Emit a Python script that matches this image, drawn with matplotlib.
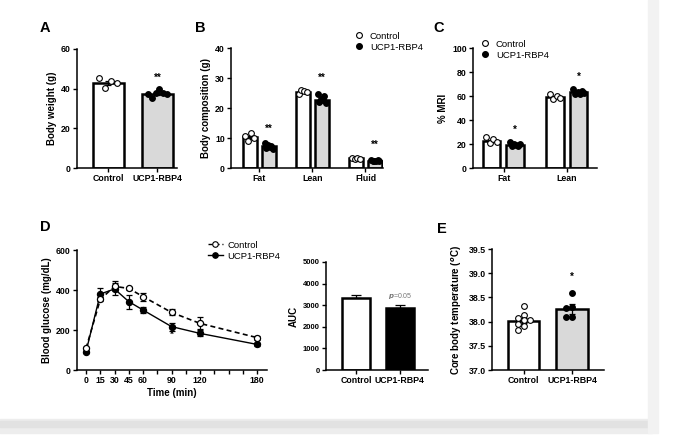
import numpy as np
import matplotlib
matplotlib.use("Agg")
import matplotlib.pyplot as plt
from matplotlib.patches import Rectangle
from matplotlib.lines import Line2D

plt.rcParams['font.family'] = ['Liberation Sans', 'DejaVu Sans']
plt.rcParams['font.weight'] = 'bold'

# ---------------- data ----------------
groups = ["Control", "UCP1-RBP4"]

# A: body weight
bw_means = [42.7, 37.5]
bw_sem = [1.0, 0.6]
bw_ctrl_pts = [45.2, 40.5, 43.9, 43.0]
bw_ucp_pts = [37.2, 35.2, 38.0, 39.7, 37.7, 37.2]

# B: body composition (g)
comp_cats = ["Fat", "Lean", "Fluid"]
comp_ctrl_means = [10.2, 25.4, 3.2]
comp_ucp_means = [7.3, 22.6, 2.4]
comp_ctrl_sem = [0.6, 0.3, 0.15]
comp_ucp_sem = [0.3, 0.5, 0.1]
comp_ctrl_pts = [[10.5, 9.0, 11.8, 10.0], [24.8, 26.0, 25.6, 25.2], [3.4, 3.0, 3.3, 2.9]]
comp_ucp_pts = [[8.3, 6.8, 7.8, 7.0, 7.5, 6.5], [24.5, 22.0, 23.0, 22.5, 24.0, 21.5],
                [2.6, 2.3, 2.5, 2.2, 2.7, 2.4]]
comp_stars = ["**", "**", "**"]
comp_star_y = [11.5, 28.5, 6.0]

# C: % MRI
mri_cats = ["Fat", "Lean"]
mri_ctrl_means = [22.5, 59.5]
mri_ucp_means = [19.5, 63.0]
mri_ctrl_sem = [1.0, 0.8]
mri_ucp_sem = [0.6, 0.6]
mri_ctrl_pts = [[26.0, 21.0, 24.0, 22.0], [61.4, 57.5, 60.3, 58.0]]
mri_ucp_pts = [[21.5, 18.0, 20.0, 19.0, 18.5, 20.0], [65.5, 62.0, 63.5, 61.5, 64.5, 62.5]]
mri_star_y = [27.5, 72.0]

# D: GTT
time_pts = [0, 15, 30, 45, 60, 90, 120, 180]
gtt_ctrl = [108, 353, 418, 408, 367, 288, 233, 162]
gtt_ctrl_err = [5, 10, 25, 8, 20, 15, 30, 10]
gtt_ucp = [92, 380, 405, 342, 300, 217, 183, 128]
gtt_ucp_err = [5, 30, 30, 35, 15, 20, 15, 8]
time_ticks = [0, 15, 30, 45, 60, 75, 90, 105, 120, 135, 150, 165, 180]
time_labels = ["0", "15", "30", "45", "60", "", "90", "", "120", "", "", "", "180"]

# AUC
auc_means = [3320, 2850]
auc_sem = [170, 170]

# E: core body temperature
temp_means = [38.02, 38.26]
temp_sem = [0.05, 0.11]
temp_ctrl_pts = [38.32, 38.14, 38.08, 38.03, 38.03, 37.96, 37.91, 37.83]
temp_ucp_pts = [38.60, 38.30, 38.28, 38.10, 38.10]

GRAY = "#d9d9d9"
W, H = 679, 436
fig = plt.figure(figsize=(W / 100, H / 100), dpi=100)
fig.patch.set_facecolor("white")

# card shadow
fig.add_artist(Rectangle((0, 1 - 433 / H), 652 / W, 14 / H, transform=fig.transFigure,
                         color="#ededed", zorder=0))
fig.add_artist(Rectangle((0, 1 - 427 / H), 652 / W, 6 / H, transform=fig.transFigure,
                         color="#e2e2e2", zorder=0))
fig.add_artist(Rectangle((648 / W, 1 - 433 / H), 10 / W, 433 / H, transform=fig.transFigure,
                         color="#f2f2f2", zorder=0))


def px_axes(l, t, r, b):
    return fig.add_axes([l / W, 1 - b / H, (r - l) / W, (b - t) / H])


def style(ax, size=6.3):
    for s in ["top", "right"]:
        ax.spines[s].set_visible(False)
    for s in ["left", "bottom"]:
        ax.spines[s].set_linewidth(1.1)
    ax.tick_params(axis="both", direction="out", length=3, width=1.0, labelsize=size, pad=1.5)
    for lab in ax.get_xticklabels() + ax.get_yticklabels():
        lab.set_fontweight("bold")


def dots(ax, x, vals, width, filled):
    n = len(vals)
    xs = x + np.linspace(-width * 0.3, width * 0.3, n)
    ax.scatter(xs, vals, s=17, facecolor="black" if filled else "white",
               edgecolor="black", linewidth=0.8, zorder=4, clip_on=False)


def swarm(ax, x, vals, filled, diam_px=5.0, step_px=3.0):
    fig.canvas.draw()
    tr = ax.transData
    base = [tr.transform((x, v)) for v in vals]
    placed = []
    xs = []
    for (bx, by), v in zip(base, vals):
        for k in [0, -1, 1, -2, 2, -3, 3, -4, 4]:
            cx = bx + k * step_px
            if all(np.hypot(cx - px, by - py) >= diam_px for px, py in placed):
                break
        placed.append((cx, by))
        xs.append(tr.inverted().transform((cx, by))[0])
    ax.scatter(xs, vals, s=17, facecolor="black" if filled else "white",
               edgecolor="black", linewidth=0.8, zorder=4, clip_on=False)


def bar(ax, x, h, w, fill, err):
    ax.bar(x, h, w, color=fill, edgecolor="black", linewidth=1.8, zorder=2)
    ax.errorbar(x, h, yerr=err, fmt="none", ecolor="black", elinewidth=0.9,
                capsize=2.5, capthick=0.9, zorder=3)


# ---------- A ----------
axA = px_axes(77, 49, 177, 168)
for i, (m, e, pts, fill, filled) in enumerate(zip(bw_means, bw_sem, [bw_ctrl_pts, bw_ucp_pts],
                                                  ["white", GRAY], [False, True])):
    bar(axA, i, m, 0.62, fill, e)
    dots(axA, i, pts, 0.62, filled)
axA.text(1, 43.0, "**", ha="center", va="bottom", fontsize=7)
axA.set_xlim(-0.64, 1.4)
axA.set_ylim(0, 60)
axA.set_yticks([0, 20, 40, 60])
axA.set_xticks([0, 1])
axA.set_xticklabels(groups)
axA.set_ylabel("Body weight (g)", fontsize=7, fontweight="bold", labelpad=3)
style(axA)

# ---------- B ----------
axB = px_axes(231, 48, 383, 168)
bw = 0.26
off = 0.18
for i in range(len(comp_cats)):
    bar(axB, i - off, comp_ctrl_means[i], bw, "white", comp_ctrl_sem[i])
    dots(axB, i - off, comp_ctrl_pts[i], bw, False)
    bar(axB, i + off, comp_ucp_means[i], bw, GRAY, comp_ucp_sem[i])
    dots(axB, i + off, comp_ucp_pts[i], bw, True)
    axB.text(i + off, comp_star_y[i], comp_stars[i], ha="center", va="bottom", fontsize=7)
axB.set_xlim(-0.53, 2.33)
axB.set_ylim(0, 40)
axB.set_yticks([0, 10, 20, 30, 40])
axB.set_xticks(range(len(comp_cats)))
axB.set_xticklabels(comp_cats)
axB.set_ylabel("Body composition (g)", fontsize=7, fontweight="bold", labelpad=3)
style(axB)

leg_handles = [Line2D([], [], ls="none", marker="o", mfc="white", mec="black", ms=4.2, mew=0.8),
               Line2D([], [], ls="none", marker="o", mfc="black", mec="black", ms=4.2, mew=0.8)]
axB.legend(leg_handles, groups, loc="upper left", bbox_to_anchor=(350 / W, 1 - 27 / H),
           bbox_transform=fig.transFigure, frameon=False,
           handlelength=1.0, handletextpad=0.6, labelspacing=0.2, borderpad=0,
           prop={"weight": "normal", "size": 6.8})

# ---------- C ----------
axC = px_axes(473, 48, 597, 168)
cw = 0.27
for i in range(len(mri_cats)):
    bar(axC, i - 0.19, mri_ctrl_means[i], cw, "white", mri_ctrl_sem[i])
    dots(axC, i - 0.19, mri_ctrl_pts[i], cw, False)
    bar(axC, i + 0.18, mri_ucp_means[i], cw, GRAY, mri_ucp_sem[i])
    dots(axC, i + 0.18, mri_ucp_pts[i], cw, True)
    axC.text(i + 0.18, mri_star_y[i], "*", ha="center", va="bottom", fontsize=7)
axC.set_xlim(-0.48, 1.47)
axC.set_ylim(0, 100)
axC.set_yticks([0, 20, 40, 60, 80, 100])
axC.set_xticks(range(len(mri_cats)))
axC.set_xticklabels(mri_cats)
axC.set_ylabel("% MRI", fontsize=7, fontweight="bold", labelpad=3)
style(axC)
axC.legend(leg_handles, groups, loc="upper left", bbox_to_anchor=(476 / W, 1 - 35 / H),
           bbox_transform=fig.transFigure, frameon=False,
           handlelength=1.0, handletextpad=0.6, labelspacing=0.2, borderpad=0,
           prop={"weight": "normal", "size": 6.8})

# ---------- D ----------
axD = px_axes(77, 250, 267, 370)
axD.errorbar(time_pts, gtt_ctrl, yerr=gtt_ctrl_err, color="black", ls=(0, (3, 2)), lw=1.2,
             marker="o", mfc="white", mec="black", ms=4.4, mew=0.9, capsize=2.5,
             elinewidth=0.9, capthick=0.9, zorder=4, label="Control")
axD.errorbar(time_pts, gtt_ucp, yerr=gtt_ucp_err, color="black", ls="-", lw=1.0,
             marker="o", mfc="black", mec="black", ms=4.4, mew=0.9, capsize=2.5,
             elinewidth=0.9, capthick=0.9, zorder=3, label="UCP1-RBP4")
axD.text(90, 150, "*", ha="center", va="bottom", fontsize=7)
axD.set_xlim(-9.5, 190.5)
axD.set_ylim(0, 600)
axD.set_yticks([0, 200, 400, 600])
axD.set_xticks(time_ticks)
axD.set_xticklabels(time_labels)
axD.set_xlabel("Time (min)", fontsize=7, fontweight="bold", labelpad=2)
axD.set_ylabel("Blood glucose (mg/dL)", fontsize=7, fontweight="bold", labelpad=3)
style(axD)
dh = [Line2D([], [], color="black", ls=(0, (3, 2)), lw=1.0, marker="o", mfc="white", mec="black", ms=4, mew=0.8),
      Line2D([], [], color="black", ls="-", lw=1.0, marker="o", mfc="black", mec="black", ms=4, mew=0.8)]
axD.legend(dh, groups, loc="upper left", bbox_to_anchor=(203 / W, 1 - 236 / H),
           bbox_transform=fig.transFigure, frameon=False,
           handlelength=1.6, handletextpad=0.5, labelspacing=0.2, borderpad=0,
           prop={"weight": "normal", "size": 6.8})

# ---------- AUC ----------
axU = px_axes(326, 262, 428, 370)
for i, (m, e, fill) in enumerate(zip(auc_means, auc_sem, ["white", "black"])):
    axU.bar(i, m, 0.64, color=fill, edgecolor="black", linewidth=1.8, zorder=2)
    axU.errorbar(i, m, yerr=[[0], [e]], fmt="none", ecolor="black", elinewidth=0.9,
                 capsize=3.5, capthick=0.9, zorder=1)
axU.text(1, 3180, "$p$=0.05", ha="center", va="bottom", fontsize=5, color="#777777",
         fontweight="normal")
axU.set_xlim(-0.68, 1.64)
axU.set_ylim(0, 5000)
axU.set_yticks([0, 1000, 2000, 3000, 4000, 5000])
axU.set_xticks([0, 1])
axU.set_xticklabels(groups)
axU.set_ylabel("AUC", fontsize=7, fontweight="bold", labelpad=3)
style(axU)
axU.tick_params(axis="y", labelsize=5.5)

# ---------- E ----------
axE = px_axes(492, 249, 604, 370)
axE.set_xlim(-0.65, 1.66)
axE.set_ylim(37.0, 39.5)
for i, (m, e, pts, fill, filled) in enumerate(zip(temp_means, temp_sem, [temp_ctrl_pts, temp_ucp_pts],
                                                  ["white", GRAY], [False, True])):
    bar(axE, i, m, 0.64, fill, e)
    swarm(axE, i, pts, filled)
axE.text(1, 38.82, "*", ha="center", va="bottom", fontsize=7)
axE.set_xlim(-0.65, 1.66)
axE.set_ylim(37.0, 39.5)
axE.set_yticks([37.0, 37.5, 38.0, 38.5, 39.0, 39.5])
axE.set_yticklabels(["37.0", "37.5", "38.0", "38.5", "39.0", "39.5"])
axE.set_xticks([0, 1])
axE.set_xticklabels(groups)
axE.set_ylabel("Core body temperature ($^o$C)", fontsize=7, fontweight="bold", labelpad=3)
style(axE)

# panel letters
for letter, x, y in [("A", 40, 32), ("B", 195, 32), ("C", 433, 32), ("D", 40, 231), ("E", 437, 233)]:
    fig.text(x / W, 1 - y / H, letter, fontsize=10.5, fontweight="bold", ha="left", va="baseline")

fig.savefig("out.png", dpi=100, facecolor="white")
